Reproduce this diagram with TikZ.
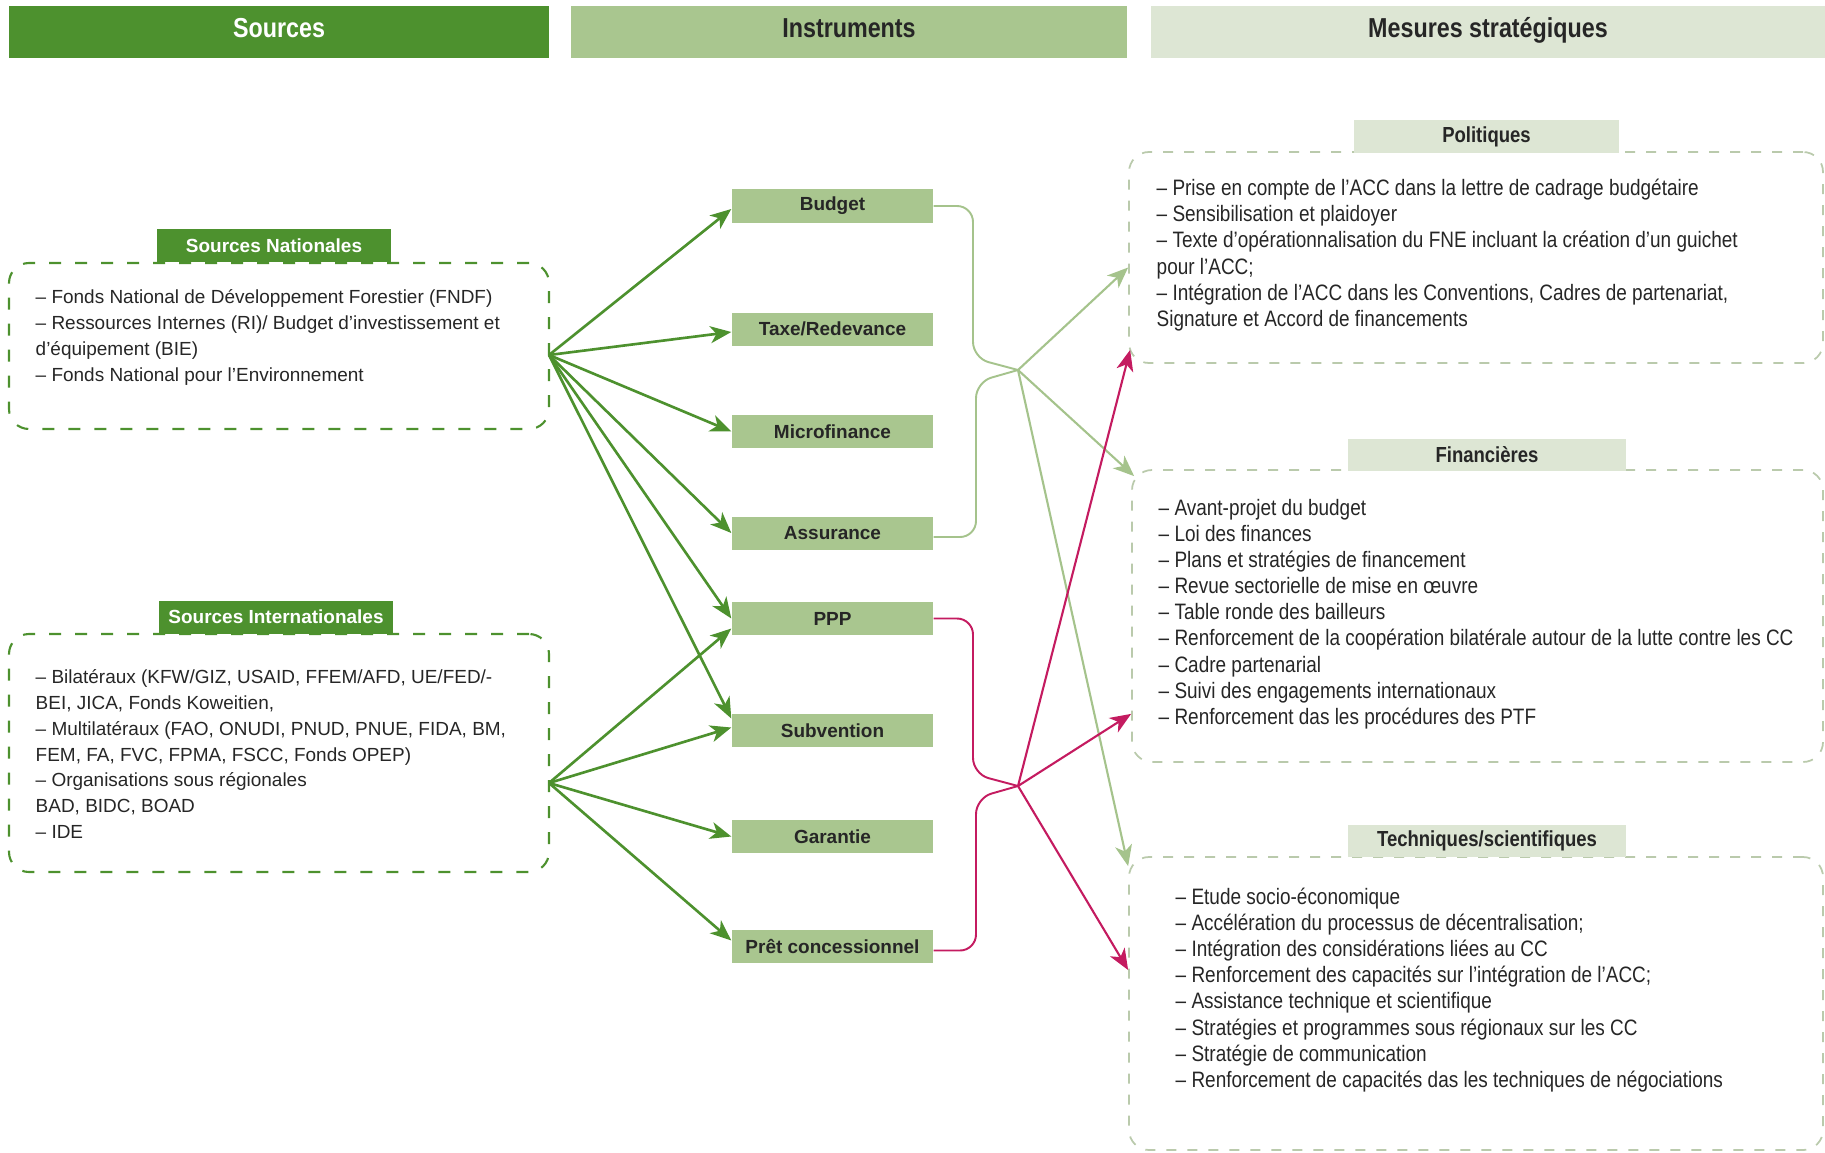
\documentclass[tikz,border=0pt]{standalone}
\usepackage{fontspec}
\setmainfont{Liberation Sans}
\newfontfamily\narrowsf[FakeStretch=0.85]{Liberation Sans}
\usetikzlibrary{arrows.meta}
\definecolor{srcgreen}{RGB}{77,145,46}
\definecolor{insgreen}{RGB}{169,198,143}
\definecolor{mesgreen}{RGB}{221,230,212}
\definecolor{mesline}{RGB}{186,202,172}
\definecolor{linkgreen}{RGB}{165,195,140}
\definecolor{linkred}{RGB}{196,27,96}
\definecolor{bodytext}{RGB}{38,38,38}

\begin{document}
\begin{tikzpicture}[
    header/.style = {minimum height = 0.52cm, inner sep = 0pt, text = black!85, text height = 1.7ex, text depth = 1.1ex, font = \narrowsf\bfseries\fontsize{7.8}{9}\selectfont},
    srclabel/.style = {fill = srcgreen, text = white, minimum width = 2.34cm, minimum height = 0.33cm, inner sep = 0pt, font = \bfseries\fontsize{5.4}{6}\selectfont},
    meslabel/.style = {fill = mesgreen, text = black!85, minimum height = 0.32cm, inner sep = 0pt, font = \narrowsf\bfseries\fontsize{6.2}{7}\selectfont},
    instr/.style = {fill = insgreen, text = black!85, minimum width = 2.01cm, minimum height = 0.33cm, inner sep = 0pt, font = \bfseries\fontsize{5.4}{6}\selectfont},
    srcbox/.style = {draw = srcgreen, line width = 0.6pt, dash pattern = on 1.2mm off 1.4mm, rounded corners = 2mm, inner sep = 0pt},
    mesbox/.style = {draw = mesline, line width = 0.5pt, dash pattern = on 1mm off 1.1mm, rounded corners = 2mm, inner sep = 0pt},
    srctext/.style = {anchor = base west, align = left, inner sep = 0pt, text = bodytext, font = \fontsize{5.4}{7.35}\selectfont},
    mestext/.style = {anchor = base west, align = left, inner sep = 0pt, text = bodytext, font = \narrowsf\fontsize{6.35}{7.45}\selectfont},
    feed/.style = {draw = srcgreen, line width = 0.75pt, -{Stealth[length = 2.1mm, width = 1.7mm, inset = 0.6mm]}},
    brace/.style = {line width = 0.55pt, rounded corners = 1.6mm},
    link/.style = {line width = 0.6pt, -{Stealth[length = 2.1mm, width = 1.7mm, inset = 0.6mm]}}
]
    \useasboundingbox (0,0) rectangle (18.25,-11.52);

    \node[header, fill = srcgreen, text = white, minimum width = 5.40cm] (hsrc) at (2.79,-0.32) {Sources};
    \node[header, fill = insgreen, minimum width = 5.56cm] (hins) at (8.49,-0.32) {Instruments};
    \node[header, fill = mesgreen, minimum width = 6.74cm] (hmes) at (14.88,-0.32) {Mesures stratégiques};

    \node[srcbox, minimum width = 5.40cm, minimum height = 1.66cm] (natbox) at (2.79,-3.46) {};
    \node[srclabel] (natlab) at (2.74,-2.455) {Sources Nationales};
    \node[srctext] (nattxt) at (0.35,-3.81) {– Fonds National de Développement Forestier (FNDF)\\
        – Ressources Internes (RI)/ Budget d’investissement et\\
        d’équipement (BIE)\\
        – Fonds National pour l’Environnement};
    \coordinate (natout) at (5.49,-3.55);

    \node[srcbox, minimum width = 5.40cm, minimum height = 2.38cm] (intbox) at (2.79,-7.53) {};
    \node[srclabel] (intlab) at (2.76,-6.17) {Sources Internationales};
    \node[srctext] (inttxt) at (0.35,-8.385) {– Bilatéraux (KFW/GIZ, USAID, FFEM/AFD, UE/FED/-\\
        BEI, JICA, Fonds Koweitien,\\
        – Multilatéraux (FAO, ONUDI, PNUD, PNUE, FIDA, BM,\\
        FEM, FA, FVC, FPMA, FSCC, Fonds OPEP)\\
        – Organisations sous régionales\\
        BAD, BIDC, BOAD\\
        – IDE};
    \coordinate (intout) at (5.49,-7.83);

    \foreach \name/\y/\txt in {budget/-2.06/Budget, taxe/-3.29/{Taxe/Redevance}, micro/-4.315/Microfinance, assur/-5.33/Assurance, ppp/-6.185/PPP, subv/-7.305/Subvention, garant/-8.365/Garantie, pret/-9.465/{Prêt concessionnel}}
        \node[instr] (\name) at (8.325,\y) {\txt};

    \foreach \dest/\shift in {budget/-0.3, taxe/-0.3, micro/0, assur/0, ppp/0, subv/1.2}
        \draw[feed] (natout) -- ([yshift = \shift mm]\dest.west);
    \foreach \dest/\shift in {ppp/-1, subv/0.3, garant/0, pret/0.6}
        \draw[feed] (intout) -- ([yshift = \shift mm]\dest.west);

    \coordinate (jgreen) at (10.18,-3.70);
    \coordinate (jred) at (10.18,-7.86);
    \draw[brace, linkgreen] (budget.east) -| (9.73,-3.58) -- (jgreen);
    \draw[brace, linkgreen] ([yshift = -0.4mm]assur.east) -| (9.76,-3.82) -- (jgreen);
    \draw[brace, linkred] (ppp.east) -| (9.73,-7.74) -- (jred);
    \draw[brace, linkred] ([yshift = -0.4mm]pret.east) -| (9.76,-7.98) -- (jred);

    \node[mesbox, minimum width = 6.94cm, minimum height = 2.11cm] (polbox) at (14.76,-2.575) {};
    \node[meslabel, minimum width = 2.65cm] (pollab) at (14.865,-1.365) {Politiques};
    \node[mestext] (poltxt) at (11.56,-3.265) {– Prise en compte de l’ACC dans la lettre de cadrage budgétaire\\
        – Sensibilisation et plaidoyer\\
        – Texte d’opérationnalisation du FNE incluant la création d’un guichet\\
        pour l’ACC;\\
        – Intégration de l’ACC dans les Conventions, Cadres de partenariat,\\
        Signature et Accord de financements};

    \node[mesbox, minimum width = 6.91cm, minimum height = 2.92cm] (finbox) at (14.775,-6.16) {};
    \node[meslabel, minimum width = 2.78cm] (finlab) at (14.87,-4.55) {Financières};
    \node[mestext] (fintxt) at (11.58,-7.245) {– Avant-projet du budget\\
        – Loi des finances\\
        – Plans et stratégies de financement\\
        – Revue sectorielle de mise en œuvre\\
        – Table ronde des bailleurs\\
        – Renforcement de la coopération bilatérale autour de la lutte contre les CC\\
        – Cadre partenarial\\
        – Suivi des engagements internationaux\\
        – Renforcement das les procédures des PTF};

    \node[mesbox, minimum width = 6.94cm, minimum height = 2.93cm] (tecbox) at (14.76,-10.035) {};
    \node[meslabel, minimum width = 2.78cm] (teclab) at (14.87,-8.405) {Techniques/scientifiques};
    \node[mestext] (tectxt) at (11.75,-10.875) {– Etude socio-économique\\
        – Accélération du processus de décentralisation;\\
        – Intégration des considérations liées au CC\\
        – Renforcement des capacités sur l’intégration de l’ACC;\\
        – Assistance technique et scientifique\\
        – Stratégies et programmes sous régionaux sur les CC\\
        – Stratégie de communication\\
        – Renforcement de capacités das les techniques de négociations};

    \draw[link, linkgreen] (jgreen) -- ([yshift = -1mm]polbox.west);
    \draw[link, linkgreen] (jgreen) -- ([xshift = 0.3mm, yshift = -0.7mm]finbox.north west);
    \draw[link, linkgreen] (jgreen) -- ([yshift = -1mm]tecbox.north west);
    \draw[link, linkred] (jred) -- ([xshift = 0.2mm, yshift = 1.4mm]polbox.south west);
    \draw[link, linkred] (jred) -- ([yshift = 4.9mm]finbox.south west);
    \draw[link, linkred] (jred) -- ([yshift = 3.35mm]tecbox.west);
\end{tikzpicture}
\end{document}
